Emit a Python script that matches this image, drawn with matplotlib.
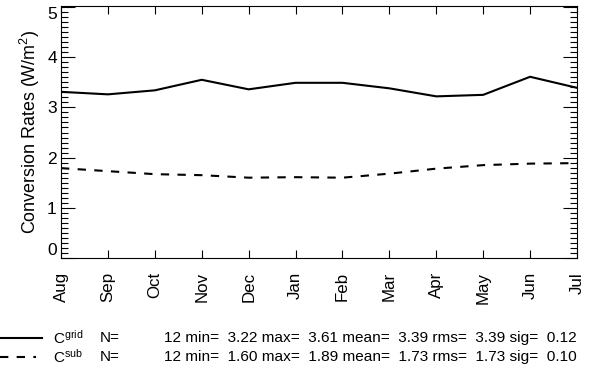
import matplotlib
matplotlib.use("Agg")
import matplotlib.pyplot as plt
from matplotlib.lines import Line2D
from matplotlib.ticker import MultipleLocator

plt.rcParams['font.family'] = ['Liberation Sans', 'DejaVu Sans']
plt.rcParams['mathtext.fontset'] = 'custom'
plt.rcParams['mathtext.rm'] = 'Liberation Sans'
plt.rcParams['mathtext.it'] = 'Liberation Sans:italic'
plt.rcParams['mathtext.bf'] = 'Liberation Sans:bold'

months = ['Aug', 'Sep', 'Oct', 'Nov', 'Dec', 'Jan', 'Feb', 'Mar', 'Apr', 'May', 'Jun', 'Jul']
c_grid = [3.31, 3.26, 3.34, 3.55, 3.36, 3.49, 3.49, 3.38, 3.22, 3.25, 3.61, 3.39]
c_sub = [1.79, 1.73, 1.67, 1.65, 1.60, 1.61, 1.60, 1.68, 1.78, 1.85, 1.88, 1.89]
y_ticks = [0, 1, 2, 3, 4, 5]
series_names = ['grid', 'sub']
stats_n = [12, 12]
stats_min = [3.22, 1.60]
stats_max = [3.61, 1.89]
stats_mean = [3.39, 1.73]
stats_rms = [3.39, 1.73]
stats_sig = [0.12, 0.10]

W, H = 597, 381
fig = plt.figure(figsize=(W / 100, H / 100), dpi=100)
ax = fig.add_axes([61 / W, 1 - 258 / H, (577 - 61) / W, (258 - 6) / H])

x = list(range(len(months)))
dash = (0, (4, 4))
ax.plot(x, c_grid, color='black', lw=1.5, solid_joinstyle='miter')
ax.plot(x, c_sub, color='black', lw=1.5, linestyle=dash)

ax.set_xlim(0, len(months) - 1)
ax.set_ylim(0, 5.02)
ax.set_xticks(x)
ax.set_xticklabels(months, rotation=90, fontsize=12.2)
ax.set_yticks(y_ticks)
ax.set_yticklabels([str(v) for v in y_ticks])
ax.yaxis.set_minor_locator(MultipleLocator(0.1))
ax.tick_params(axis='y', which='major', direction='in', length=10, width=0.8,
               left=True, right=True, labelsize=12.5, pad=3)
ax.tick_params(axis='y', which='minor', direction='in', length=5, width=0.8,
               left=True, right=True)
ax.tick_params(axis='x', which='major', direction='in', length=5.5, width=0.8,
               top=True, bottom=True, pad=10)
for s in ax.spines.values():
    s.set_linewidth(0.8)
ax.set_ylabel('Conversion Rates (W/m$^2$)', fontsize=12.9, labelpad=4)

# keep end labels inside the frame as in the reference
ylabels = ax.get_yticklabels()
ylabels[0].set_va('bottom')
ylabels[-1].set_va('top')

# legend / statistics rows
rows_y = [338, 357]
styles = ['-', dash]
ends = [42, 36]
for i in range(2):
    yf = 1 - rows_y[i] / H
    fig.add_artist(Line2D([0, ends[i] / W], [yf, yf], transform=fig.transFigure,
                          color='black', lw=1.5, linestyle=styles[i]))
    fig.text(53 / W, yf, 'C$^{\\mathrm{%s}}$' % series_names[i], fontsize=11,
             va='center', ha='left')
    fig.text(100 / W, yf, 'N=', fontsize=11, va='center', ha='left')
    s = '%d min=  %.2f max=  %.2f mean=  %.2f rms=  %.2f sig=  %.2f' % (
        stats_n[i], stats_min[i], stats_max[i], stats_mean[i], stats_rms[i], stats_sig[i])
    fig.text(577 / W, yf, s, fontsize=11.1, va='center', ha='right')

fig.savefig('out.png', dpi=100)
